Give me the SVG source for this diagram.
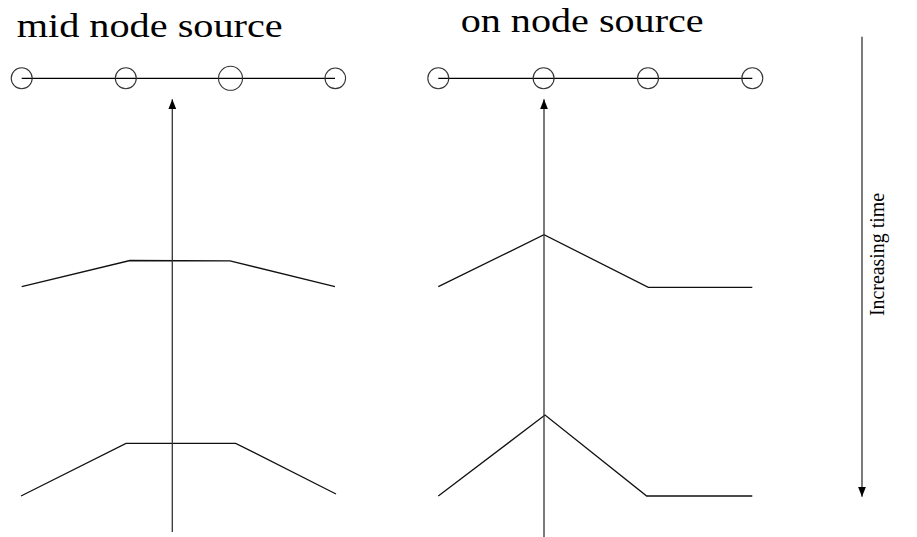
<svg xmlns="http://www.w3.org/2000/svg" width="917" height="537" viewBox="0 0 917 537">
  <style>
    .title { font-family: "Liberation Serif", "DejaVu Serif", serif; font-size: 34px; fill: #000; }
    .label { font-family: "Liberation Serif", "DejaVu Serif", serif; font-size: 20px; fill: #000; }
    .wire { stroke: #000; stroke-width: 1.3; fill: none; }
    .node { stroke: #333; stroke-width: 1.1; fill: none; }
    .front { stroke: #111; stroke-width: 1.3; fill: none; stroke-linejoin: miter; }
    .axis { stroke: #333; stroke-width: 1.3; fill: none; }
  </style>
  <defs>
    <marker id="head" markerUnits="userSpaceOnUse" markerWidth="12" markerHeight="8" refX="10" refY="4" orient="auto">
      <path d="M0,0 L10,4 L0,8 Z" fill="#000"/>
    </marker>
  </defs>
  <rect width="917" height="537" fill="#fff"/>

  <text class="title" x="16.7" y="36.7" textLength="266" lengthAdjust="spacingAndGlyphs">mid node source</text>
  <text class="title" x="460.7" y="32.3" textLength="243" lengthAdjust="spacingAndGlyphs">on node source</text>

  <!-- node chain, mid-node source case -->
  <g id="chain-mid">
    <line class="wire" x1="21.7" y1="78.3" x2="335" y2="78.3"/>
    <g id="mid-node-1"><circle class="node" cx="21.7" cy="78.3" r="10.5"/></g>
    <g id="mid-node-2"><circle class="node" cx="125.8" cy="78.3" r="10.5"/></g>
    <g id="mid-node-3"><circle class="node" cx="230.5" cy="78.3" r="12"/></g>
    <g id="mid-node-4"><circle class="node" cx="335.3" cy="78.3" r="10.3"/></g>
  </g>

  <!-- node chain, on-node source case -->
  <g id="chain-on">
    <line class="wire" x1="438.3" y1="78.3" x2="752.3" y2="78.3"/>
    <g id="on-node-1"><circle class="node" cx="438.3" cy="78.3" r="10.5"/></g>
    <g id="on-node-2"><circle class="node" cx="543.6" cy="78.3" r="10.5"/></g>
    <g id="on-node-3"><circle class="node" cx="648" cy="78.3" r="10.5"/></g>
    <g id="on-node-4"><circle class="node" cx="752.3" cy="78.3" r="10.5"/></g>
  </g>

  <!-- wave fronts at two successive times -->
  <g id="fronts">
    <polyline class="front" points="21.7,286.7 130,260.5 230,260.8 335,286.7"/>
    <polyline class="front" points="21,496 126,443.3 235.7,443.3 336,494"/>
    <polyline class="front" points="438.3,286.7 544,234.7 648.3,287.3 752.3,287.3"/>
    <polyline class="front" points="438.3,496 545,415 646.7,496 752.3,496"/>
  </g>

  <!-- source position arrows and time axis -->
  <g id="connectors">
    <line class="axis" x1="172.3" y1="532" x2="172.3" y2="99.3" marker-end="url(#head)"/>
    <line class="axis" x1="544" y1="537" x2="544" y2="99.3" marker-end="url(#head)"/>
    <line class="axis" x1="862" y1="36.7" x2="862" y2="496.7" marker-end="url(#head)"/>
  </g>

  <text class="label" transform="translate(884,254.5) rotate(-90)" text-anchor="middle" textLength="123" lengthAdjust="spacingAndGlyphs">Increasing time</text>
</svg>
